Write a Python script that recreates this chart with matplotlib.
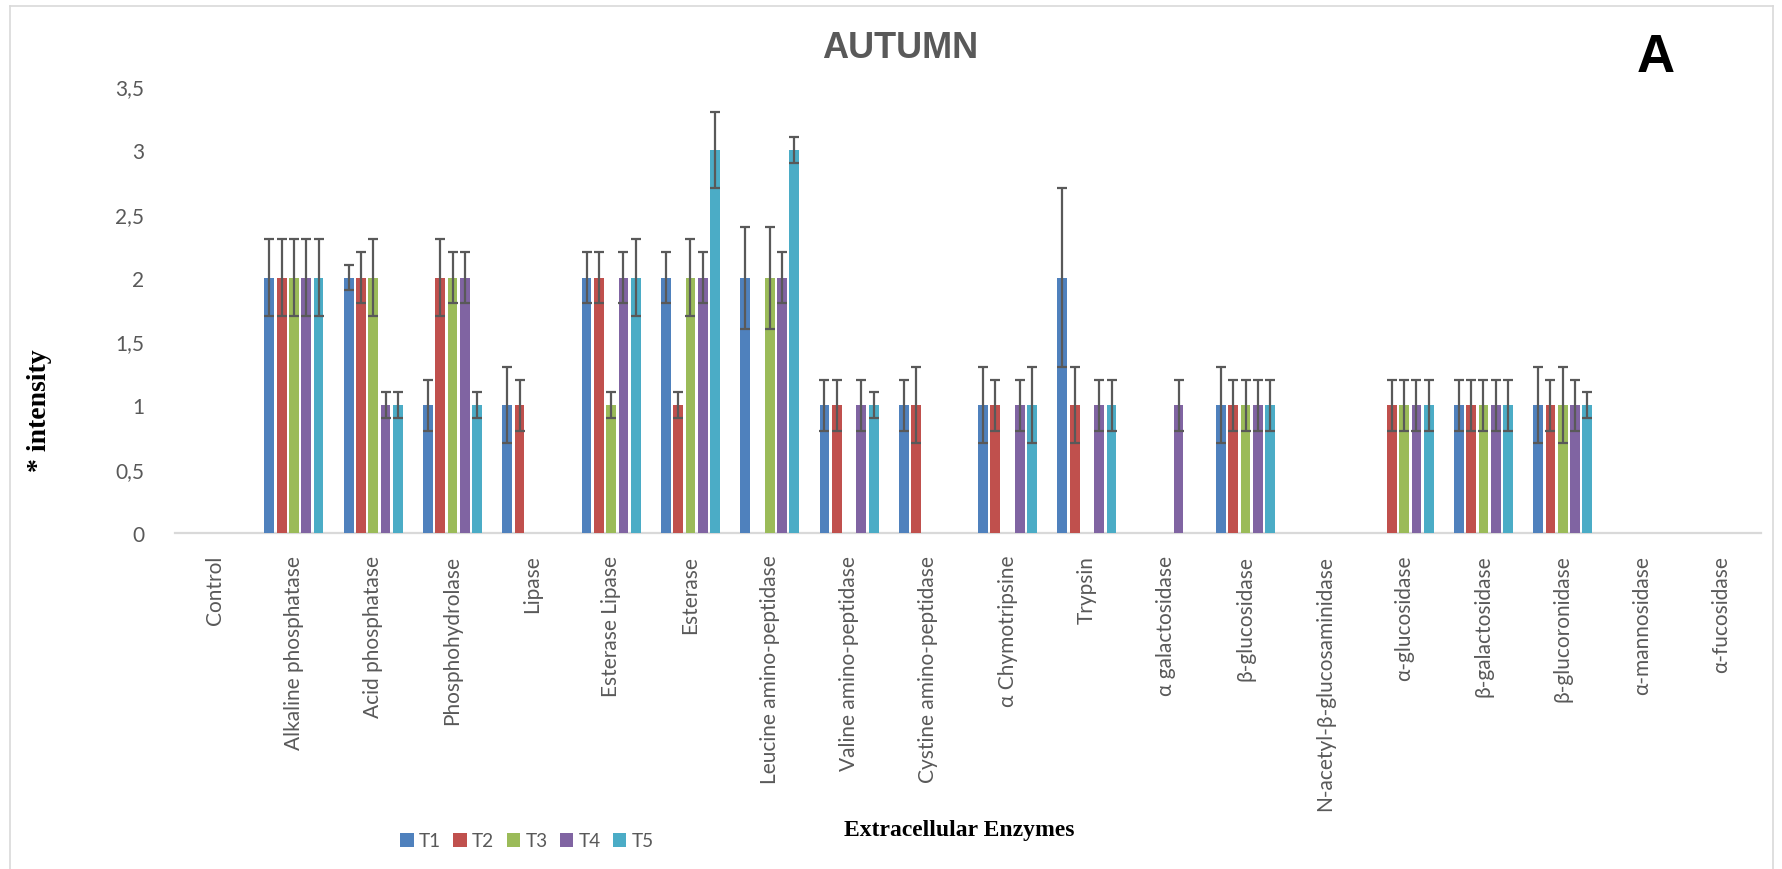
import numpy as np
import matplotlib
matplotlib.use("Agg")
import matplotlib.pyplot as plt
from matplotlib.lines import Line2D

# ---- data -------------------------------------------------------------
enzymes = [
    "Control", "Alkaline phosphatase", "Acid phosphatase", "Phosphohydrolase",
    "Lipase", "Esterase Lipase", "Esterase", "Leucine amino-peptidase",
    "Valine amino-peptidase", "Cystine amino-peptidase", "α Chymotripsine",
    "Trypsin", "α galactosidase", "β-glucosidase", "N-acetyl-β-glucosaminidase",
    "α-glucosidase", "β-galactosidase", "β-glucoronidase", "α-mannosidase",
    "α-fucosidase",
]
treatments = ["T1", "T2", "T3", "T4", "T5"]

t1 = [0, 2, 2, 1, 1, 2, 2, 2, 1, 1, 1, 2, 0, 1, 0, 0, 1, 1, 0, 0]
t2 = [0, 2, 2, 2, 1, 2, 1, 0, 1, 1, 1, 1, 0, 1, 0, 1, 1, 1, 0, 0]
t3 = [0, 2, 2, 2, 0, 1, 2, 2, 0, 0, 0, 0, 0, 1, 0, 1, 1, 1, 0, 0]
t4 = [0, 2, 1, 2, 0, 2, 2, 2, 1, 0, 1, 1, 1, 1, 0, 1, 1, 1, 0, 0]
t5 = [0, 2, 1, 1, 0, 2, 3, 3, 1, 0, 1, 1, 0, 1, 0, 1, 1, 1, 0, 0]

t1_err = [0, .3, .1, .2, .3, .2, .2, .4, .2, .2, .3, .7, 0, .3, 0, 0, .2, .3, 0, 0]
t2_err = [0, .3, .2, .3, .2, .2, .1, 0, .2, .3, .2, .3, 0, .2, 0, .2, .2, .2, 0, 0]
t3_err = [0, .3, .3, .2, 0, .1, .3, .4, 0, 0, 0, 0, 0, .2, 0, .2, .2, .3, 0, 0]
t4_err = [0, .3, .1, .2, 0, .2, .2, .2, .2, 0, .2, .2, .2, .2, 0, .2, .2, .2, 0, 0]
t5_err = [0, .3, .1, .1, 0, .3, .3, .1, .1, 0, .3, .2, 0, .2, 0, .2, .2, .1, 0, 0]

y_ticks = [0, 0.5, 1, 1.5, 2, 2.5, 3, 3.5]
y_tick_labels = ["0", "0,5", "1", "1,5", "2", "2,5", "3", "3,5"]

# ---- style ------------------------------------------------------------
colors = ["#4F81BD", "#C0504D", "#9BBB59", "#8064A2", "#4BACC6"]
text_grey = "#595959"
axis_grey = "#D9D9D9"
sans = ["Lato", "DejaVu Sans"]
serif = ["Liberation Serif", "DejaVu Serif"]

W, H = 1782, 870
fig = plt.figure(figsize=(W / 100, H / 100), dpi=100)
fig.patch.set_facecolor("white")

def fx(px):
    return px / W

def fy(py):
    return 1 - py / H

ax_left, ax_right, ax_top, ax_bottom = 175, 1761, 87.5, 533.5
ax = fig.add_axes([fx(ax_left), fy(ax_bottom), fx(ax_right - ax_left),
                   (ax_bottom - ax_top) / H])

series = [t1, t2, t3, t4, t5]
errors = [t1_err, t2_err, t3_err, t4_err, t5_err]
x = np.arange(len(enzymes))
pitch = 0.155
bar_w = 0.123

for i, (vals, errs, col, name) in enumerate(zip(series, errors, colors, treatments)):
    pos = x + (i - 2) * pitch
    vals = np.asarray(vals, dtype=float)
    errs = np.asarray(errs, dtype=float)
    ax.bar(pos, vals, width=bar_w, color=col, label=name, zorder=2)
    mask = errs > 0
    ax.errorbar(pos[mask], vals[mask], yerr=errs[mask], fmt="none",
                ecolor=text_grey, elinewidth=1.6, capsize=3.8, capthick=1.6,
                zorder=3)

ax.set_xlim(-0.5, len(enzymes) - 0.5)
ax.set_ylim(0, 3.5)
ax.set_yticks(y_ticks)
ax.set_yticklabels(y_tick_labels)
ax.set_xticks(x)
ax.set_xticklabels(enzymes, rotation=90, va="top", ha="center")

for side in ("top", "right", "left"):
    ax.spines[side].set_visible(False)
ax.spines["bottom"].set_color(axis_grey)
ax.spines["bottom"].set_linewidth(1.6)
ax.spines["bottom"].set_zorder(1)
ax.tick_params(axis="both", length=0, colors=text_grey, labelsize=15)
ax.tick_params(axis="y", pad=22)
ax.tick_params(axis="x", pad=16)
for lab in ax.get_xticklabels() + ax.get_yticklabels():
    lab.set_family(sans)
    lab.set_color(text_grey)

# chart frame
frame_kw = dict(color=axis_grey, linewidth=1.2, transform=fig.transFigure)
fig.add_artist(Line2D([fx(10), fx(10)], [fy(7), 0], **frame_kw))
fig.add_artist(Line2D([fx(10), fx(1773)], [fy(7), fy(7)], **frame_kw))
fig.add_artist(Line2D([fx(1773), fx(1773)], [fy(7), 0], **frame_kw))

# titles and axis labels
fig.text(fx(900), fy(49), "AUTUMN", ha="center", va="center",
         fontsize=26, fontweight="bold", color=text_grey,
         family=["Liberation Sans", "DejaVu Sans"])
fig.text(fx(1656), fy(58), "A", ha="center", va="center",
         fontsize=38, fontweight="bold", color="black",
         family=["Liberation Sans", "DejaVu Sans"])
fig.text(fx(39), fy(411), "* intensity", rotation=90, ha="center", va="center",
         fontsize=20, fontweight="bold", color="black", family=serif)
fig.text(fx(959), fy(831), "Extracellular Enzymes", ha="center", va="center",
         fontsize=17, fontweight="bold", color="black", family=serif)

leg = fig.legend(loc="center", bbox_to_anchor=(fx(527), fy(842)), ncol=5,
                 frameon=False, handlelength=0.7, handleheight=0.7,
                 handletextpad=0.28, columnspacing=0.65, borderpad=0,
                 prop={"family": sans, "size": 13.7})
for t in leg.get_texts():
    t.set_color(text_grey)

fig.savefig("out.png", dpi=100, facecolor="white")
